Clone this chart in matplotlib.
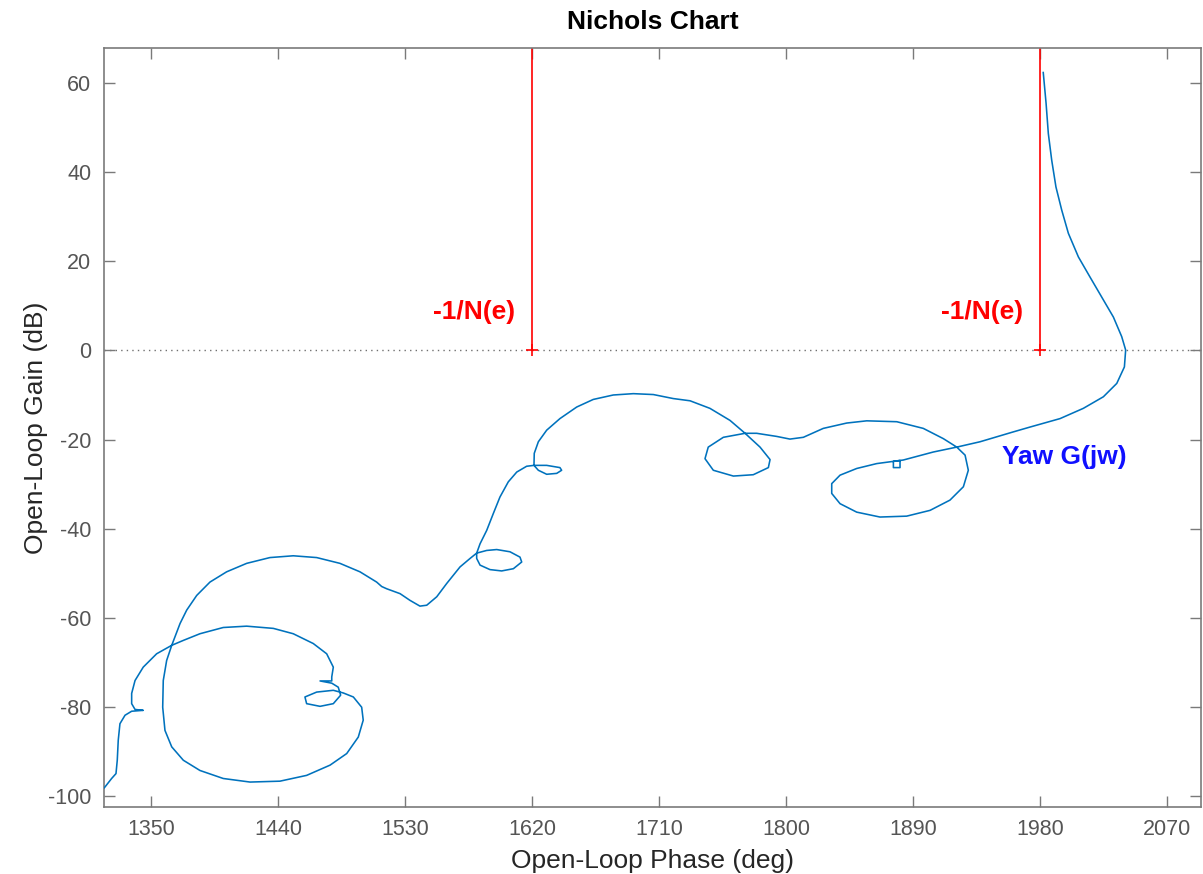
import matplotlib
matplotlib.use("Agg")
import matplotlib.pyplot as plt

# ── Data (Nichols plot of the yaw loop) ──────────────────────────────────────
phase_deg = [
    1982.3, 1984.3, 1985.9, 1988.3, 1991.3, 1995.4, 2000.1, 2007.2, 2015.4, 2023.7,
    2032.0, 2037.9, 2040.7, 2039.8, 2034.4, 2024.9, 2010.7, 1994.2, 1972.9, 1960.9,
    1937.5, 1921.0, 1904.4, 1883.1, 1876.1, 1876.1, 1880.8, 1880.8, 1876.1, 1864.3,
    1850.1,
    1838.3, 1832.4, 1832.4, 1838.3, 1850.1, 1866.6, 1885.5, 1902.1, 1916.2, 1925.7,
    1929.2, 1926.9, 1921.0, 1911.5, 1897.3, 1878.5, 1857.2, 1843.0, 1826.4, 1812.3,
    1802.8, 1793.4, 1779.2, 1771.0, 1755.6, 1744.9, 1742.6, 1748.5, 1762.7, 1776.8,
    1787.5, 1788.7, 1781.6, 1771.0, 1760.3, 1746.1, 1732.0, 1720.1, 1706.0, 1691.8,
    1677.6, 1663.4, 1651.7, 1639.8, 1630.4, 1624.5, 1621.6, 1621.4, 1630.4, 1639.8,
    1641.0, 1637.5, 1630.4, 1624.5, 1621.4,
    1616.2, 1609.2, 1603.2, 1597.3, 1592.6, 1587.9, 1583.2,
    1580.8, 1587.9, 1595.0, 1604.4, 1611.5, 1612.7, 1606.8, 1598.5, 1590.2, 1583.2,
    1580.8, 1580.8, 1576.1, 1569.0, 1559.6, 1552.5, 1545.4, 1540.6, 1533.5, 1526.5,
    1517.0, 1513.5, 1509.9, 1498.1, 1483.9, 1467.4, 1450.8, 1434.3, 1417.8, 1403.6,
    1391.8, 1382.4, 1375.3, 1370.6, 1367.0, 1364.7, 1361.1, 1358.7, 1358.3, 1359.9,
    1364.7, 1372.9, 1384.7, 1401.2, 1420.2, 1441.4, 1460.3, 1476.9, 1488.7, 1496.9,
    1500.4, 1499.3, 1493.4, 1486.3, 1479.2, 1467.4, 1459.1, 1460.3, 1469.8, 1479.2,
    1484.4, 1482.7, 1478.1, 1469.8, 1478.1, 1478.1, 1479.2, 1474.5, 1465.0, 1450.8,
    1436.7, 1417.8, 1401.2, 1384.7, 1372.9, 1364.7, 1354.0, 1344.5, 1338.7, 1336.3,
    1336.3, 1338.7, 1344.5, 1336.3, 1331.6, 1328.0, 1326.8, 1326.1, 1325.2, 1322.1,
    1317.4, 1314.0,
]
gain_db = [
    62.4, 55.5, 48.7, 42.7, 36.7, 31.5, 26.3, 21.0, 16.5, 12.0,
    7.5, 3.1, 0.1, -3.7, -7.4, -10.4, -13.0, -15.3, -17.2, -18.3,
    -20.5, -21.7, -22.8, -24.6, -24.9, -26.3, -26.3, -24.7, -24.9, -25.4,
    -26.5,
    -28.0, -29.9, -32.1, -34.4, -36.3, -37.4, -37.2, -35.9, -33.6, -30.6,
    -26.9, -23.5, -21.7, -19.8, -17.5, -16.0, -15.8, -16.3, -17.5, -19.5,
    -19.9, -19.3, -18.6, -18.6, -19.5, -21.7, -24.3, -26.9, -28.2, -27.9,
    -26.3, -24.5, -21.7, -18.6, -15.7, -13.0, -11.3, -10.8, -9.9, -9.7,
    -10.0, -11.0, -12.7, -15.3, -17.9, -20.5, -23.1, -25.8, -25.8, -26.3,
    -26.9, -27.6, -27.8, -26.9, -25.8,
    -26.0, -27.3, -29.5, -32.9, -36.6, -40.4, -43.4,
    -45.5, -44.9, -44.7, -45.2, -46.4, -47.5, -49.0, -49.5, -49.2, -48.2,
    -46.7, -45.5, -46.7, -48.6, -52.3, -55.3, -57.2, -57.4, -56.1, -54.6,
    -53.5, -53.0, -52.0, -49.7, -47.8, -46.5, -46.1, -46.5, -47.8, -49.7,
    -52.0, -55.0, -58.3, -61.3, -64.3, -66.2, -69.6, -74.1, -80.1, -85.3,
    -89.0, -92.0, -94.3, -96.1, -96.9, -96.7, -95.4, -93.1, -90.5, -86.8,
    -83.0, -80.1, -77.8, -76.9, -76.3, -76.7, -77.8, -79.3, -79.9, -79.3,
    -77.4, -75.6, -74.7, -74.2, -74.2, -73.3, -71.1, -68.1, -65.8, -63.6,
    -62.4, -61.9, -62.2, -63.6, -65.1, -66.2, -68.1, -71.1, -74.1, -77.0,
    -79.3, -80.6, -80.8, -81.0, -81.9, -83.8, -87.5, -92.0, -95.0, -96.1,
    -98.0, -99.2,
]
assert len(phase_deg) == len(gain_db)

# critical points (-1/N(e) locus) at 0 dB
crit_phase = [1620, 1980]
crit_gain_top = 80

x_ticks = [1350, 1440, 1530, 1620, 1710, 1800, 1890, 1980, 2070]
y_ticks = [-100, -80, -60, -40, -20, 0, 20, 40, 60]
x_lim = (1316.7, 2094.1)
y_lim = (-102.5, 67.9)

# ── Styling (MATLAB-ish look) ────────────────────────────────────────────────
plt.rcParams.update({
    "font.family": ["Liberation Sans", "DejaVu Sans"],
    "axes.unicode_minus": False,
    "axes.edgecolor": "#7a7a7a",
    "xtick.color": "#7a7a7a",
    "ytick.color": "#7a7a7a",
    "xtick.labelcolor": "#555555",
    "ytick.labelcolor": "#555555",
})

fig = plt.figure(figsize=(12.03, 8.74), dpi=100)
ax = fig.add_axes([0.08645, 0.07666, 0.9119, 0.8684])

# 0 dB reference
ax.axhline(0, color="#707070", linestyle=(0, (1, 3)), linewidth=1.0, zorder=1)

# loop response
ax.plot(phase_deg, gain_db, color="#0072BD", linewidth=1.15, zorder=3)

# -1/N(e) lines
for ph in crit_phase:
    ax.plot([ph, ph], [0, crit_gain_top], color="#ff0000", linewidth=1.2, zorder=2)
    ax.plot([ph], [0], marker="+", color="#ff0000", markersize=9,
            markeredgewidth=1.2, zorder=2)
    ax.text(ph - 12, 8.6, "-1/N(e)", color="#ff0000", fontsize=19,
            fontweight="bold", ha="right", va="center")

ax.text(1953, -24.0, "Yaw G(jw)", color="#1010ff", fontsize=19,
        fontweight="bold", ha="left", va="center")

ax.set_xlim(*x_lim)
ax.set_ylim(*y_lim)
ax.set_xticks(x_ticks)
ax.set_yticks(y_ticks)
ax.tick_params(direction="in", length=8, width=1.0, top=True, right=True,
               labelsize=15.5, pad=9)
for s in ax.spines.values():
    s.set_linewidth(1.2)

ax.set_xlabel("Open-Loop Phase (deg)", fontsize=19, color="#262626", labelpad=6)
ax.set_ylabel("Open-Loop Gain (dB)", fontsize=19, color="#262626", labelpad=0)
ax.set_title("Nichols Chart", fontsize=19, fontweight="bold", color="#000000",
             pad=14)

fig.savefig("out.png", dpi=100)
